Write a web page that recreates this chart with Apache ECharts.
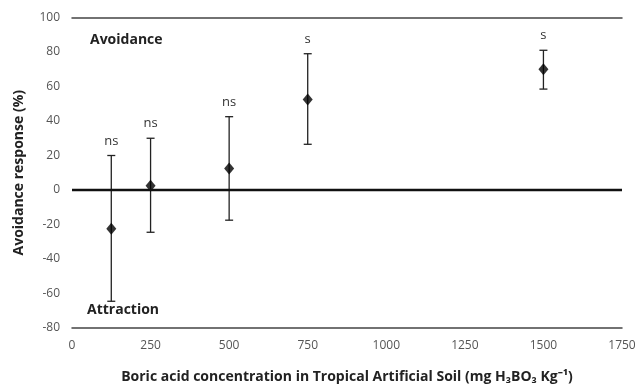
<!DOCTYPE html>
<html>
<head>
<meta charset="utf-8">
<script src="https://cdn.jsdelivr.net/npm/echarts@6/dist/echarts.min.js"></script>
<style>
  html, body { margin: 0; padding: 0; background: #fff; }
  #chart { width: 638px; height: 386px; }
</style>
</head>
<body>
<div id="chart"></div>
<script>
const concentrations = [125, 250, 500, 750, 1500];
const meanResponse = [-22.5, 2.5, 12.5, 52.5, 70];
const errLow = [-64.5, -24.5, -17.5, 26.5, 58.5];
const errHigh = [20, 30, 42.5, 79, 81];
const significance = ['ns', 'ns', 'ns', 's', 's'];
const xTicks = [0, 250, 500, 750, 1000, 1250, 1500, 1750];

const chart = echarts.init(document.getElementById('chart'));

const barData = concentrations.map((c, i) => [c, errLow[i], errHigh[i], significance[i]]);
const pointData = concentrations.map((c, i) => [c, meanResponse[i]]);

function renderErrorBar(params, api) {
  const x = api.value(0);
  const lo = api.coord([x, api.value(1)]);
  const hi = api.coord([x, api.value(2)]);
  const cap = 4;
  const style = { stroke: '#222', lineWidth: 1.3 };
  return {
    type: 'group',
    children: [
      { type: 'line', shape: { x1: lo[0], y1: lo[1], x2: hi[0], y2: hi[1] }, style },
      { type: 'line', shape: { x1: hi[0] - cap, y1: hi[1], x2: hi[0] + cap, y2: hi[1] }, style },
      { type: 'line', shape: { x1: lo[0] - cap, y1: lo[1], x2: lo[0] + cap, y2: lo[1] }, style },
      {
        type: 'text',
        style: {
          x: hi[0], y: hi[1] - 8,
          text: api.value(3),
          textAlign: 'center', textVerticalAlign: 'bottom',
          fill: '#333', font: '13px "Open Sans", sans-serif'
        }
      }
    ]
  };
}

chart.setOption({
  backgroundColor: '#fff',
  animation: false,
  grid: { left: 72, right: 16, top: 17.5, bottom: 58, outerBoundsMode: 'none' },
  xAxis: [{
    type: 'value',
    min: xTicks[0], max: xTicks[xTicks.length - 1], interval: 250,
    position: 'bottom',
    axisLine: { onZero: false, lineStyle: { color: '#444', width: 1.5 } },
    axisTick: { show: false },
    splitLine: { show: false },
    axisLabel: { color: '#555', fontSize: 12, margin: 12, fontFamily: 'Open Sans', formatter: v => String(v) },
    name: 'Boric acid concentration in Tropical Artificial Soil (mg H\u2083BO\u2083 Kg\u207B\u00B9)',
    nameLocation: 'middle', nameGap: 42,
    nameTextStyle: { color: '#222', fontSize: 14, fontWeight: 'bold', fontFamily: 'Open Sans' }
  }, {
    type: 'value',
    min: xTicks[0], max: xTicks[xTicks.length - 1], interval: 250,
    position: 'top',
    axisLine: { onZero: false, lineStyle: { color: '#444', width: 1.5 } },
    axisTick: { show: false },
    axisLabel: { show: false },
    splitLine: { show: false }
  }],
  yAxis: {
    type: 'value',
    min: -80, max: 100, interval: 20,
    axisLine: { show: false },
    axisTick: { show: false },
    splitLine: { show: false },
    axisLabel: { color: '#555', fontSize: 12, margin: 12, fontFamily: 'Open Sans' },
    name: 'Avoidance response (%)',
    nameLocation: 'middle', nameGap: 46,
    nameTextStyle: { color: '#222', fontSize: 14, fontWeight: 'bold', fontFamily: 'Open Sans' }
  },
  graphic: [
    { type: 'text', left: 90, top: 33, style: { text: 'Avoidance', fill: '#222', font: 'bold 14px "Open Sans", sans-serif' } },
    { type: 'text', left: 87, top: 303, style: { text: 'Attraction', fill: '#222', font: 'bold 14px "Open Sans", sans-serif' } }
  ],
  series: [{
    type: 'custom',
    renderItem: renderErrorBar,
    data: barData,
    encode: { x: 0, y: [1, 2] },
    z: 2
  }, {
    type: 'scatter',
    data: pointData,
    symbol: 'diamond',
    symbolSize: [10, 12],
    itemStyle: { color: '#000' },
    z: 3,
    markLine: {
      silent: true,
      symbol: 'none',
      label: { show: false },
      lineStyle: { color: '#111', width: 2.4, type: 'solid' },
      data: [{ yAxis: 0 }]
    }
  }]
});
window.addEventListener('resize', () => chart.resize());
</script>
</body>
</html>
